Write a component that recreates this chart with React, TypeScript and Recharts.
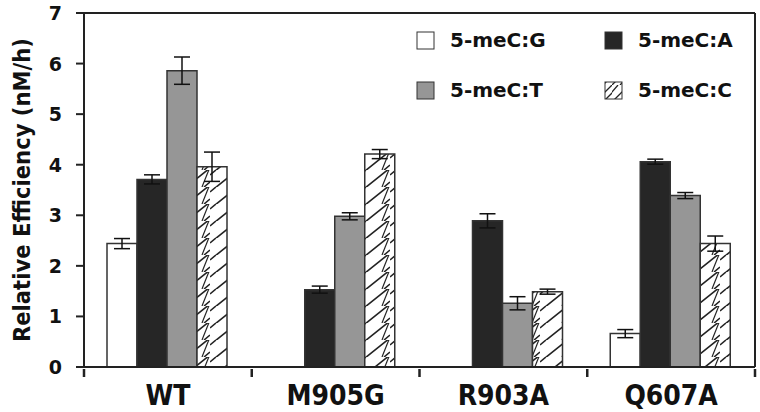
import { BarChart, Bar, XAxis, YAxis, ErrorBar, ReferenceLine } from "recharts";

const categories = ["WT", "M905G", "R903A", "Q607A"];
const gValues = [2.44, 0, 0, 0.66];
const gErr = [0.1, 0, 0, 0.08];
const aValues = [3.71, 1.53, 2.89, 4.06];
const aErr = [0.09, 0.07, 0.14, 0.05];
const tValues = [5.86, 2.98, 1.26, 3.39];
const tErr = [0.27, 0.07, 0.13, 0.06];
const cValues = [3.96, 4.21, 1.49, 2.44];
const cErr = [0.29, 0.09, 0.05, 0.15];
const yTicks = [0, 1, 2, 3, 4, 5, 6, 7];

const data = categories.map((name, i) => ({
  name,
  g: gValues[i],
  gErr: gErr[i],
  a: aValues[i],
  aErr: aErr[i],
  t: tValues[i],
  tErr: tErr[i],
  c: cValues[i],
  cErr: cErr[i],
}));

const FONT = "'DejaVu Sans', sans-serif";
const FONT_C = "'DejaVu Sans Condensed', 'DejaVu Sans', sans-serif";
const EDGE = "#333333";
const AX = "#222222";

// plot frame (chart margin + axis sizes)
const PLOT_LEFT = 84;
const PLOT_TOP = 13;
const PLOT_BOTTOM = 367;

const legendItems = [
  { key: "g", label: "5-meC:G", fill: "#ffffff" },
  { key: "a", label: "5-meC:A", fill: "#262626" },
  { key: "t", label: "5-meC:T", fill: "#969696" },
  { key: "c", label: "5-meC:C", fill: "url(#hatchSmall)" },
];

// category label plus tick marks at the band edges
function CategoryTick(props: any) {
  const { x, y, payload, index, visibleTicksCount } = props;
  const half = payload.offset || 0;
  const last = index === (visibleTicksCount ?? categories.length) - 1;
  const top = y - 6;
  return (
    <g>
      <line x1={x - half} x2={x - half} y1={top} y2={top + 8} stroke={AX} strokeWidth={2.5} />
      {last && <line x1={x + half} x2={x + half} y1={top} y2={top + 8} stroke={AX} strokeWidth={2.5} />}
      <text x={x} y={y + 30} textAnchor="middle" fontFamily={FONT_C} fontWeight={700} fontSize={28} fill="#111">
        {payload.value}
      </text>
    </g>
  );
}

function ValueTick(props: any) {
  const { x, y, payload } = props;
  return (
    <text x={x - 22} y={y + 7} textAnchor="end" fontFamily={FONT} fontWeight={700} fontSize={19} fill="#111">
      {payload.value}
    </text>
  );
}

function Defs() {
  return (
    <svg width={0} height={0} style={{ position: "absolute" }}>
      <defs>
        <pattern id="hatchSmall" width="17" height="17" patternUnits="userSpaceOnUse">
          <rect width="17" height="17" fill="#fff" />
          <path d="M0,17 L17,0 M-6,14 L6,0 M8,17 L20,5" stroke="#222" strokeWidth={1.3} />
        </pattern>
        <pattern id="hatch" width="30" height="17" patternUnits="userSpaceOnUse">
          <rect width="30" height="17" fill="#fff" />
          <path d="M0,22 L30,-2 M0,5 L6,0 M24,17 L30,12" stroke="#222" strokeWidth={1.6} fill="none" />
          <path d="M22,17 L30,-3" stroke="#222" strokeWidth={1.2} fill="none" />
        </pattern>
      </defs>
    </svg>
  );
}

function Overlay() {
  const step = (PLOT_BOTTOM - PLOT_TOP) / yTicks[yTicks.length - 1];
  return (
    <svg width={760} height={412} style={{ position: "absolute", left: 0, top: 0, pointerEvents: "none" }}>
      <line x1={PLOT_LEFT} x2={PLOT_LEFT} y1={PLOT_TOP} y2={PLOT_BOTTOM + 1} stroke={AX} strokeWidth={2} />
      {yTicks.map((v) => (
        <line
          key={v}
          x1={PLOT_LEFT - 8}
          x2={PLOT_LEFT}
          y1={PLOT_BOTTOM - v * step}
          y2={PLOT_BOTTOM - v * step}
          stroke={AX}
          strokeWidth={2}
        />
      ))}
      <text
        transform="translate(30,190) rotate(-90)"
        textAnchor="middle"
        fontFamily={FONT_C}
        fontWeight={700}
        fontSize={23.5}
        fill="#111"
      >
        Relative Efficiency (nM/h)
      </text>
      {legendItems.map((it, i) => {
        const col = i % 2;
        const row = Math.floor(i / 2);
        const x = 417 + col * 188;
        const y = 32 + row * 50;
        return (
          <g key={it.key}>
            <rect x={x} y={y} width={17} height={17} fill={it.fill} stroke={EDGE} strokeWidth={1} />
            <text x={x + 33} y={y + 15} fontFamily={FONT} fontWeight={700} fontSize={20} fill="#111">
              {it.label}
            </text>
          </g>
        );
      })}
    </svg>
  );
}

export default function App() {
  return (
    <div style={{ position: "absolute", left: 0, top: 0, width: 760, height: 412, background: "#fff" }}>
      <Defs />
      <div style={{ position: "absolute", left: 0, top: 0 }}>
        <BarChart
          width={760}
          height={412}
          data={data}
          margin={{ top: PLOT_TOP, right: 5, bottom: 0, left: 0 }}
          barCategoryGap={23}
          barGap={0}
        >
          <XAxis
            dataKey="name"
            height={412 - PLOT_BOTTOM}
            stroke={AX}
            strokeWidth={2}
            tickLine={false}
            tick={<CategoryTick />}
          />
          <YAxis
            domain={[0, 7]}
            ticks={yTicks}
            width={PLOT_LEFT}
            tickSize={0}
            tickMargin={0}
            tickLine={false}
            axisLine={false}
            tick={<ValueTick />}
          />
          <ReferenceLine y={7} stroke={AX} strokeWidth={2} />
          <ReferenceLine x="Q607A" position="end" stroke={AX} strokeWidth={2} />
          <Bar dataKey="g" fill="#ffffff" stroke={EDGE} strokeWidth={1.5} isAnimationActive={false}>
            <ErrorBar dataKey="gErr" width={8} stroke="#111" strokeWidth={1.5} />
          </Bar>
          <Bar dataKey="a" fill="#262626" stroke={EDGE} strokeWidth={1.5} isAnimationActive={false}>
            <ErrorBar dataKey="aErr" width={8} stroke="#111" strokeWidth={1.5} />
          </Bar>
          <Bar dataKey="t" fill="#969696" stroke={EDGE} strokeWidth={1.5} isAnimationActive={false}>
            <ErrorBar dataKey="tErr" width={8} stroke="#111" strokeWidth={1.5} />
          </Bar>
          <Bar dataKey="c" fill="url(#hatch)" stroke={EDGE} strokeWidth={1.5} isAnimationActive={false}>
            <ErrorBar dataKey="cErr" width={8} stroke="#111" strokeWidth={1.5} />
          </Bar>
        </BarChart>
      </div>
      <Overlay />
    </div>
  );
}
